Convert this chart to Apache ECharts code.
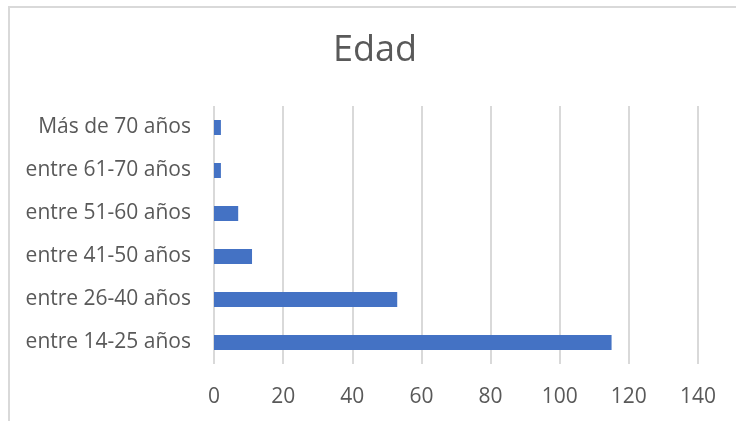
<!DOCTYPE html>
<html>
<head>
  <meta charset="UTF-8">
  <title>Edad</title>
  <script src="https://cdn.jsdelivr.net/npm/echarts@6/dist/echarts.min.js"></script>
  <style type="text/css">
  html, body { margin: 0; padding: 0; background: #ffffff; }
  #chart { width: 736px; height: 421px; }
  </style>
</head>
<body>
  <div id="chart"></div>
  <script>
    // categories listed bottom to top, as the category axis draws them
    var categories = ['entre 14-25 años', 'entre 26-40 años', 'entre 41-50 años', 'entre 51-60 años', 'entre 61-70 años', 'Más de 70 años'];
    var values = [115, 53, 11, 7, 2, 2];
    var xMin = 0, xMax = 140, xStep = 20;

    var font = '"Open Sans", "Noto Sans", sans-serif';
    var chart = echarts.init(document.getElementById('chart'), null, {renderer: 'canvas'});
    chart.setOption({
      animation: false,
      title: {
        text: 'Edad',
        left: 328,
        top: 28,
        textStyle: {fontFamily: font, fontSize: 36, fontWeight: 'normal', color: '#595959'}
      },
      graphic: [{
        type: 'rect',
        shape: {x: 9, y: 7, width: 800, height: 500},
        style: {fill: 'none', stroke: '#d9d9d9', lineWidth: 2},
        silent: true
      }],
      grid: {left: 214, right: 38, top: 106, bottom: 57, containLabel: false},
      xAxis: {
        type: 'value',
        min: xMin,
        max: xMax,
        interval: xStep,
        axisLine: {show: false},
        axisTick: {show: false},
        splitLine: {lineStyle: {color: '#d9d9d9', width: 2}},
        axisLabel: {fontFamily: font, fontSize: 21, color: '#595959', margin: 23}
      },
      yAxis: {
        type: 'category',
        data: categories,
        axisLine: {show: false},
        axisTick: {show: false},
        axisLabel: {fontFamily: font, fontSize: 21, color: '#595959', margin: 23}
      },
      series: [{
        type: 'bar',
        data: values,
        barWidth: 15,
        itemStyle: {color: '#4472c4'}
      }]
    });
  </script>
</body>
</html>
